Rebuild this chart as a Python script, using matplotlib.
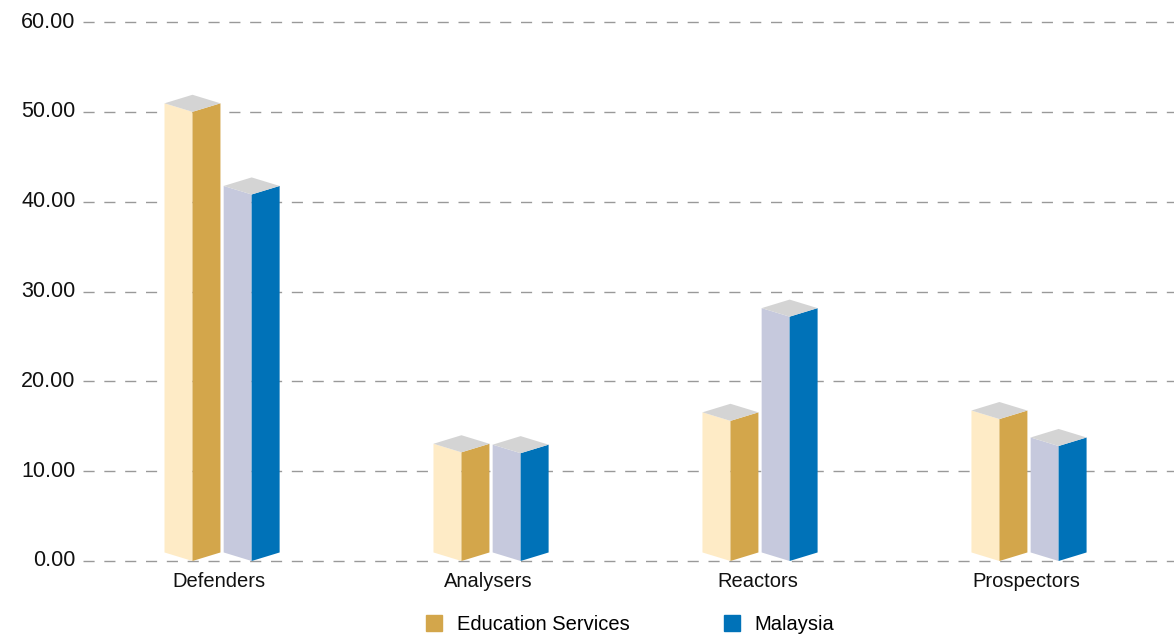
import matplotlib
matplotlib.use('Agg')
import matplotlib.pyplot as plt
from matplotlib.patches import Polygon
from matplotlib.lines import Line2D
import numpy as np

plt.rcParams['font.family'] = ['Liberation Sans', 'DejaVu Sans']

categories = ['Defenders', 'Analysers', 'Reactors', 'Prospectors']
education = [50.0, 12.1, 15.6, 15.8]
malaysia = [40.8, 12.0, 27.2, 12.8]
series_names = ['Education Services', 'Malaysia']
yticks = [0, 10, 20, 30, 40, 50, 60]

# face colours: (light side, dark side)
ed_faces = ('#FEEBC6', '#D3A64B')
my_faces = ('#C6C9DD', '#0072B8')
top_color = '#D4D4D4'

fig = plt.figure(figsize=(11.74, 6.4), dpi=100)
ax = fig.add_axes([83 / 1174, 79 / 640, 1 - 83 / 1174, (561 - 22) / 640])
ax.set_xlim(-0.517, 3.539)
ax.set_ylim(0, 60)
for s in ax.spines.values():
    s.set_visible(False)
ax.set_xticks([])
ax.set_yticks([])

for t in yticks:
    ax.axhline(t, color='#999999', lw=1.0, dashes=(8, 7), zorder=0, clip_on=False)
    ax.text(-0.545, t, f'{t:.2f}', ha='right', va='center', fontsize=15.5, color='#111111')

hw = 0.104    # half width of a bar in x units
dy = 0.95     # depth offset in y units
shift = 0.110 # distance of each bar's front edge from the group centre


def prism(xf, v, faces):
    light, dark = faces
    left = [(xf - hw, dy), (xf, 0), (xf, v), (xf - hw, v + dy)]
    right = [(xf, 0), (xf + hw, dy), (xf + hw, v + dy), (xf, v)]
    top = [(xf - hw, v + dy), (xf, v), (xf + hw, v + dy), (xf, v + 2 * dy)]
    for pts, c in ((left, light), (right, dark), (top, top_color)):
        ax.add_patch(Polygon(pts, closed=True, facecolor=c, edgecolor='none',
                             zorder=2, clip_on=False))


x = np.arange(len(categories))
for i in x:
    prism(i - shift, education[i], ed_faces)
    prism(i + shift, malaysia[i], my_faces)
    ax.text(i - 0.01, -1.25, categories[i], ha='center', va='top', fontsize=14.5, color='#111111')

handles = [Line2D([], [], marker='s', ls='none', markersize=11, color=ed_faces[1]),
           Line2D([], [], marker='s', ls='none', markersize=11, color=my_faces[1])]
fig.legend(handles, series_names, loc='center', bbox_to_anchor=(0.535, 1 - 625 / 640),
           ncol=2, frameon=False, fontsize=14.5, columnspacing=4.5, handletextpad=0.5,
           handlelength=1.2)

fig.savefig('out.png', dpi=100)
